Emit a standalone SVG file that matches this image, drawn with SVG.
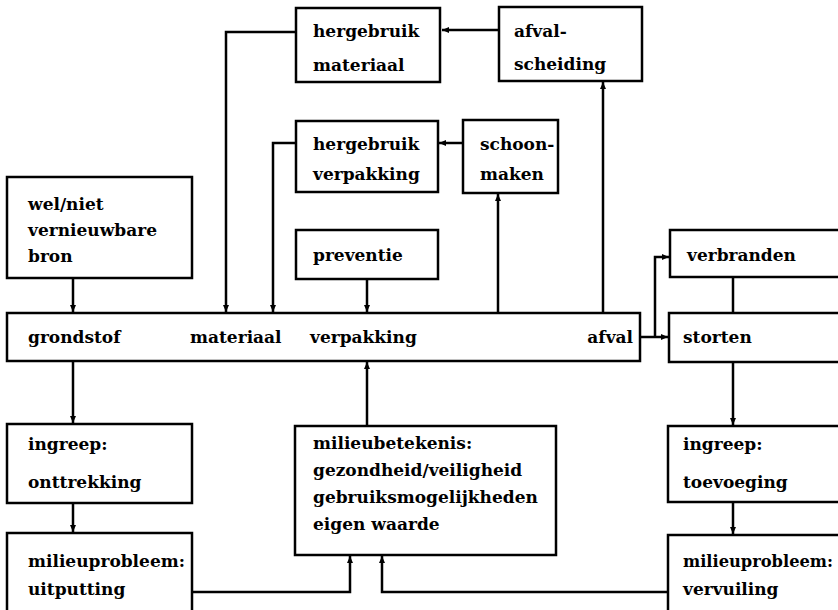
<svg xmlns="http://www.w3.org/2000/svg" width="838" height="610" viewBox="0 0 838 610">
<defs>
<marker id="ah" markerUnits="userSpaceOnUse" markerWidth="8" markerHeight="8" viewBox="0 0 8 8" refX="7" refY="4" orient="auto">
<path d="M0,1 L7,4 L0,7 Z" fill="#000"/>
</marker>
</defs>
<style>
.b{fill:#fff;stroke:#000;stroke-width:2.5}
.c path{fill:none;stroke:#000;stroke-width:2.5}
.a{marker-end:url(#ah)}
text{font-family:"DejaVu Serif","Liberation Serif",serif;font-weight:bold;font-size:17px;fill:#000}
</style>
<rect width="838" height="610" fill="#fff"/>
<g class="c" id="connectors">
<path class="a" d="M73,278 V312"/>
<path class="a" d="M296,32 H226 V312"/>
<path class="a" d="M296,143 H273 V312"/>
<path class="a" d="M367,279 V312"/>
<path class="a" d="M499,30 H442"/>
<path class="a" d="M463,143 H439"/>
<path class="a" d="M498,313 V194"/>
<path class="a" d="M603,313 V82"/>
<path class="a" d="M640,337 H668"/>
<path class="a" d="M655,337 V257 H669"/>
<path d="M733,277 V313"/>
<path class="a" d="M733,362 V425"/>
<path class="a" d="M733,502 V534"/>
<path class="a" d="M73,361 V423"/>
<path class="a" d="M73,503 V532"/>
<path class="a" d="M367,426 V362"/>
<path class="a" d="M192,592 H350 V556"/>
<path class="a" d="M668,592 H382 V556"/>
</g>
<g id="hergebruik-materiaal"><rect class="b" x="296" y="8" width="144" height="74"/><text x="313" y="37">hergebruik</text><text x="313" y="71">materiaal</text></g>
<g id="afvalscheiding"><rect class="b" x="499" y="7" width="143" height="74"/><text x="514" y="37">afval-</text><text x="514" y="70">scheiding</text></g>
<g id="hergebruik-verpakking"><rect class="b" x="296" y="121" width="142" height="71"/><text x="313" y="150">hergebruik</text><text x="313" y="180">verpakking</text></g>
<g id="schoonmaken"><rect class="b" x="463" y="120" width="95" height="73"/><text x="480" y="150">schoon-</text><text x="480" y="180">maken</text></g>
<g id="preventie"><rect class="b" x="296" y="230" width="142" height="49"/><text x="313" y="261">preventie</text></g>
<g id="bron"><rect class="b" x="7" y="177" width="185" height="101"/><text x="28" y="210">wel/niet</text><text x="28" y="236">vernieuwbare</text><text x="28" y="262">bron</text></g>
<g id="verbranden"><rect class="b" x="670" y="230" width="175" height="47"/><text x="687" y="261">verbranden</text></g>
<g id="keten"><rect class="b" x="7" y="313" width="633" height="48"/><text x="28" y="343">grondstof</text><text x="190" y="343">materiaal</text><text x="310" y="343">verpakking</text><text x="633" y="343" text-anchor="end">afval</text></g>
<g id="storten"><rect class="b" x="669" y="313" width="176" height="49"/><text x="683" y="343">storten</text></g>
<g id="onttrekking"><rect class="b" x="7" y="424" width="185" height="79"/><text x="28" y="450">ingreep:</text><text x="28" y="488">onttrekking</text></g>
<g id="uitputting"><rect class="b" x="7" y="533" width="185" height="85"/><text x="28" y="567">milieuprobleem:</text><text x="28" y="595">uitputting</text></g>
<g id="milieubetekenis"><rect class="b" x="295" y="426" width="261" height="129"/><text x="313" y="449">milieubetekenis:</text><text x="313" y="476">gezondheid/veiligheid</text><text x="313" y="503">gebruiksmogelijkheden</text><text x="313" y="530">eigen waarde</text></g>
<g id="toevoeging"><rect class="b" x="668" y="426" width="177" height="76"/><text x="683" y="450">ingreep:</text><text x="683" y="488">toevoeging</text></g>
<g id="vervuiling"><rect class="b" x="668" y="535" width="177" height="83"/><text x="683" y="567" textLength="150" lengthAdjust="spacingAndGlyphs">milieuprobleem:</text><text x="683" y="595">vervuiling</text></g>
</svg>
